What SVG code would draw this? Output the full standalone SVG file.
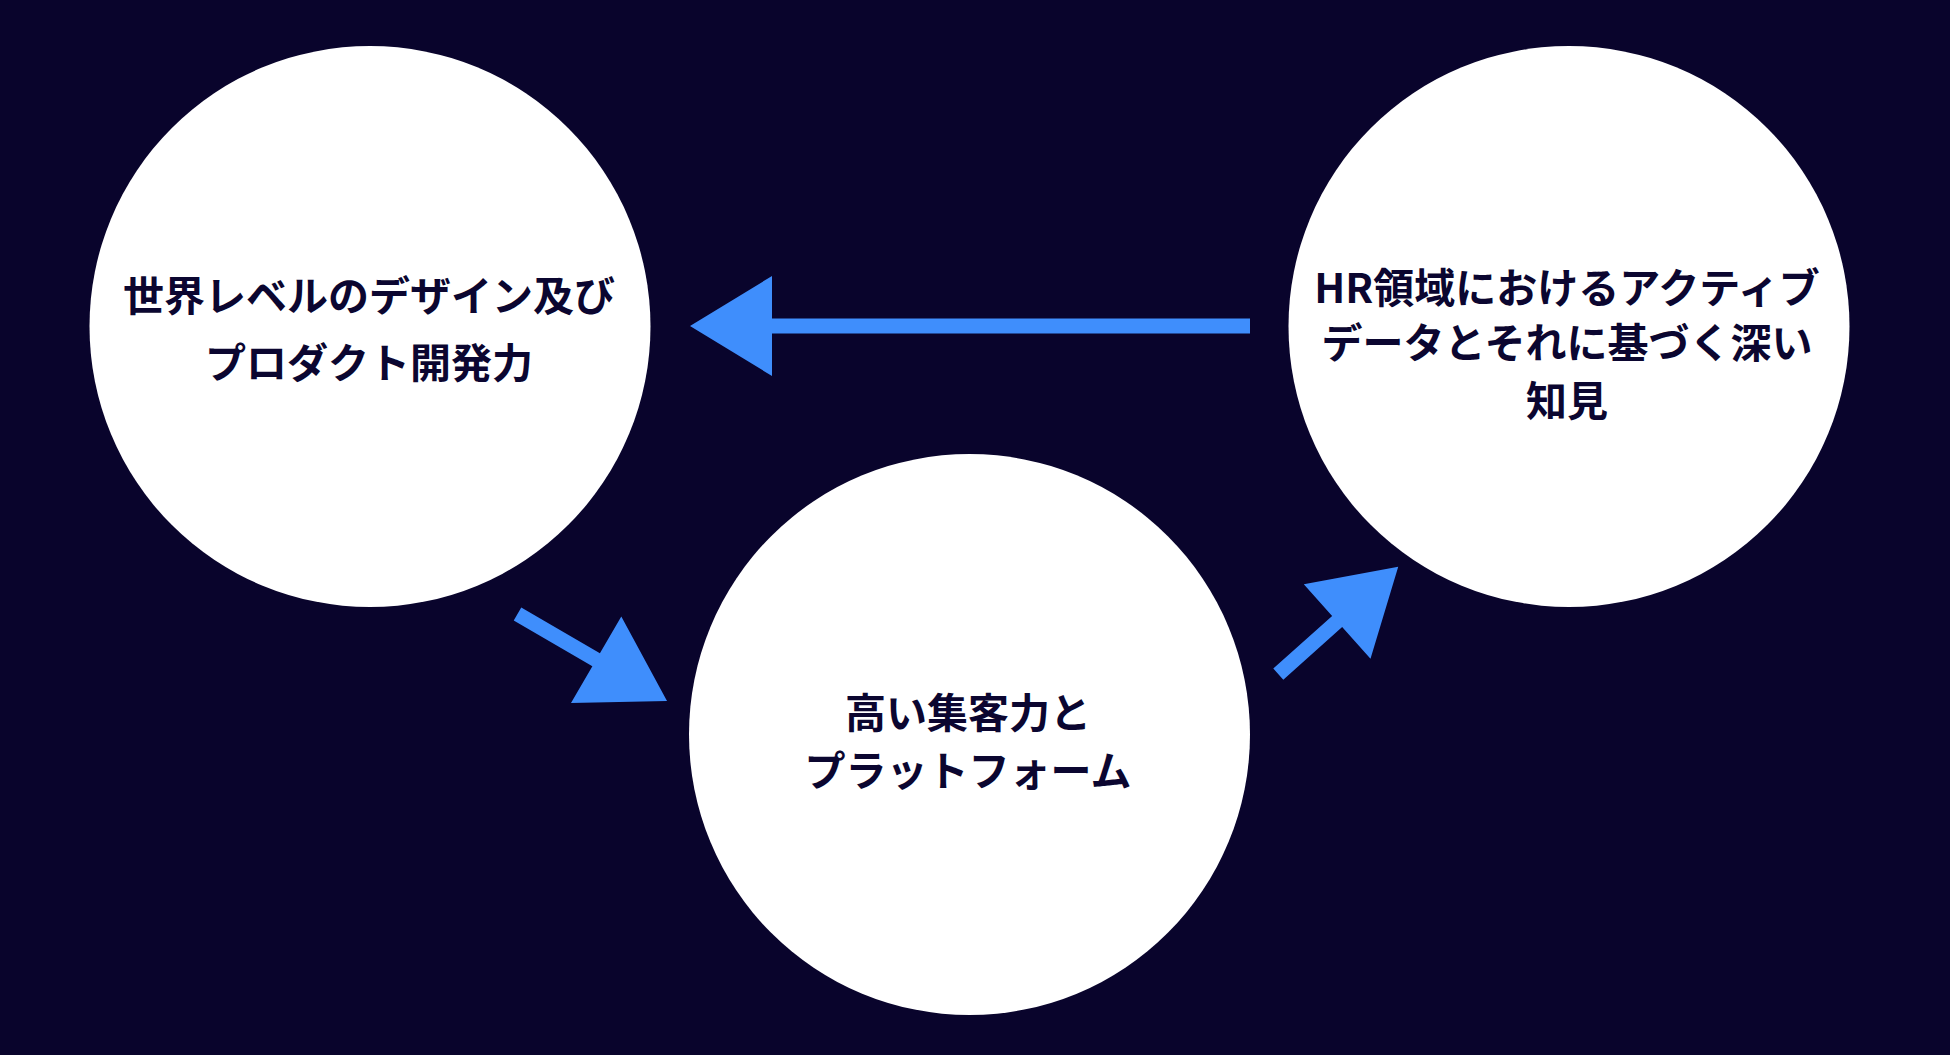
<svg xmlns="http://www.w3.org/2000/svg" width="1950" height="1055" viewBox="0 0 1950 1055">
  <style>
    .node { fill: #ffffff; }
    .label { font-family: "Noto Sans CJK JP", "Noto Sans", sans-serif; font-weight: 700; font-size: 41px; fill: #0b0630; text-anchor: middle; }
    .arrow { fill: #3f8efc; }
  </style>
  <rect x="0" y="0" width="1950" height="1055" fill="#09042c"/>

  <g id="connectors">
    <polygon id="c-right-to-left" class="arrow" points="690,326 772,276 772,318.5 1250,318.5 1250,333.5 772,333.5 772,376"/>
    <polygon id="c-left-to-bottom" class="arrow" transform="translate(517.5,614) rotate(30.2)" points="0,-7.5 91,-7.5 91,-50 173,0 91,50 91,7.5 0,7.5"/>
    <polygon id="c-bottom-to-right" class="arrow" transform="translate(1278.3,674.2) rotate(-41.85)" points="0,-7.5 79,-7.5 79,-50 161,0 79,50 79,7.5 0,7.5"/>
  </g>

  <g id="node-design">
    <circle class="node" cx="370" cy="326.5" r="280.5"/>
    <text class="label" x="369" y="310.5">世界レベルのデザイン及び</text>
    <text class="label" x="369" y="377.5">プロダクト開発力</text>
  </g>

  <g id="node-platform">
    <circle class="node" cx="969.5" cy="734.5" r="280.5"/>
    <text class="label" x="968" y="727.5">高い集客力と</text>
    <text class="label" x="968" y="786">プラットフォーム</text>
  </g>

  <g id="node-hrdata">
    <circle class="node" cx="1569" cy="326.5" r="280.5"/>
    <text class="label" x="1567" y="302.5">HR領域におけるアクティブ</text>
    <text class="label" x="1567" y="357.5">データとそれに基づく深い</text>
    <text class="label" x="1567" y="416">知見</text>
  </g>
</svg>
